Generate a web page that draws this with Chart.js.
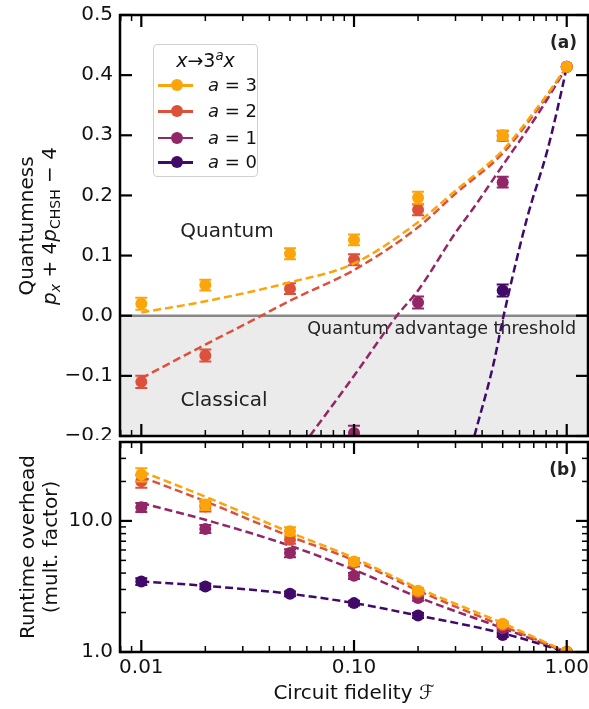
<!DOCTYPE html>
<html>
<head>
<meta charset="utf-8">
<script src="https://cdn.jsdelivr.net/npm/chart.js@4.4.0/dist/chart.umd.min.js"></script>
<style>
  body { margin: 0; background: #fff; }
  #wrap { position: relative; width: 589px; height: 709px; font-family: 'DejaVu Sans', sans-serif; color: #111; }
  #wrap canvas { position: absolute; left: 0; }
  .ylab { position: absolute; transform: translate(-50%, -50%) rotate(-90deg); text-align: center; white-space: nowrap; font-size: 20px; line-height: 23px; }
  .xlab { position: absolute; transform: translate(-50%, -50%); white-space: nowrap; font-size: 20px; }
  sub { font-size: 0.7em; vertical-align: -0.3em; line-height: 0; }
  sup { font-size: 0.7em; vertical-align: 0.55em; line-height: 0; }
  #legend { position: absolute; left: 153px; top: 44px; width: 105px; height: 133px; box-sizing: border-box; border: 1px solid #d0d0d0; border-radius: 4px; background: #fff; font-size: 18px; }
  #legend .ltitle { position: absolute; left: 0; width: 103px; top: 15px; transform: translateY(-50%); text-align: center; font-size: 19px; }
  #legend .lrow { position: absolute; left: 0; width: 103px; height: 24px; transform: translateY(-50%); }
  #legend .lline { position: absolute; left: 4px; top: 11px; width: 35px; height: 2.5px; }
  #legend .ldot { position: absolute; left: 16.5px; top: 6px; width: 12px; height: 12px; border-radius: 50%; }
  #legend .ltext { position: absolute; left: 54px; top: 1px; }
</style>
</head>
<body>
<div id="wrap">
  <canvas id="chartA" width="589" height="440" style="top:0"></canvas>
  <canvas id="chartB" width="589" height="269" style="top:440px"></canvas>
  <div class="ylab" style="left:38px; top:226px">Quantumness<br><i>p</i><sub><i>x</i></sub> + 4<i>p</i><sub>CHSH</sub> − 4</div>
  <div class="ylab" style="left:39px; top:547px">Runtime overhead<br>(mult. factor)</div>
  <div class="xlab" style="left:354px; top:692px">Circuit fidelity ℱ</div>
  <div id="legend"></div>
</div>
<script>
// --- DATA ---
const fidelity = [0.01, 0.02, 0.05, 0.1, 0.2, 0.5, 1.0];
const seriesNames = ['3', '2', '1', '0'];
const seriesColors = ['#fca50a', '#dd513a', '#932667', '#420a68'];

// panel (a): quantumness, measured points (null = below the plotted range)
const quantA3 = [0.020, 0.051, 0.103, 0.126, 0.196, 0.300, 0.414];
const quantA2 = [-0.110, -0.066, 0.045, 0.093, 0.176, 0.299, 0.414];
const quantA1 = [null, null, null, -0.195, 0.022, 0.222, 0.414];
const quantA0 = [null, null, null, null, null, 0.042, 0.414];
const quantErrA3 = [0.010, 0.009, 0.009, 0.009, 0.010, 0.008, 0];
const quantErrA2 = [0.010, 0.010, 0.009, 0.009, 0.009, 0.008, 0];
const quantErrA1 = [0, 0, 0, 0.012, 0.010, 0.009, 0];
const quantErrA0 = [0, 0, 0, 0, 0, 0.010, 0];

const fitQuantX3 = [0.01, 0.02, 0.05, 0.1, 0.2, 0.3, 0.5, 0.753, 1.0];
const fitQuantY3 = [0.0055, 0.024, 0.0555, 0.087, 0.1555, 0.208, 0.275, 0.353, 0.414];
const fitQuantX2 = [0.01, 0.02, 0.0367, 0.05, 0.1, 0.2, 0.3, 0.5, 0.753, 1.0];
const fitQuantY2 = [-0.104, -0.048, 0.0, 0.025, 0.076, 0.147, 0.203, 0.27, 0.35, 0.414];
const fitQuantX1 = [0.062, 0.1, 0.159, 0.2, 0.3, 0.366, 0.5, 0.753, 1.0];
const fitQuantY1 = [-0.2, -0.10, 0.0, 0.042, 0.138, 0.18, 0.25, 0.342, 0.414];
const fitQuantX0 = [0.368, 0.45, 0.505, 0.653, 0.811, 0.954, 1.0];
const fitQuantY0 = [-0.2, -0.084, 0.0, 0.164, 0.275, 0.38, 0.414];

// panel (b): runtime overhead
const overA3 = [22.6, 13.3, 8.33, 4.91, 2.93, 1.64, 1.0];
const overA2 = [20.1, 12.9, 7.19, 4.80, 2.85, 1.60, 1.0];
const overA1 = [12.7, 8.69, 5.69, 3.81, 2.58, 1.52, 1.0];
const overA0 = [3.45, 3.16, 2.78, 2.36, 1.90, 1.35, 1.0];
const overErrA3 = [2.6, 1.2, 0.6, 0.3, 0.15, 0.07, 0.02];
const overErrA2 = [2.2, 1.1, 0.5, 0.3, 0.15, 0.07, 0.02];
const overErrA1 = [1.0, 0.6, 0.4, 0.2, 0.12, 0.06, 0.02];
const overErrA0 = [0.2, 0.15, 0.12, 0.1, 0.08, 0.05, 0.02];
const fitOverA3 = [23.9, 15.3, 8.18, 5.21, 3.07, 1.66, 1.0];
const fitOverA2 = [21.7, 14.1, 7.62, 5.00, 2.94, 1.58, 1.0];
const fitOverA1 = [13.7, 10.2, 6.47, 4.24, 2.62, 1.52, 1.0];
const fitOverA0 = [3.45, 3.20, 2.78, 2.36, 1.90, 1.39, 1.0];

// --- AXES ---
const X_MIN = 0.00794, X_MAX = 1.259;
const xMajorTicks = [0.01, 0.1, 1];
const xMinorTicks = [0.008, 0.009, 0.02, 0.03, 0.04, 0.05, 0.06, 0.07, 0.08, 0.09,
                     0.2, 0.3, 0.4, 0.5, 0.6, 0.7, 0.8, 0.9];
const quantTicks = [-0.2, -0.1, 0, 0.1, 0.2, 0.3, 0.4, 0.5];
const overTicks = [1, 10];
const overMinorTicks = [2, 3, 4, 5, 6, 7, 8, 9, 20, 30];

Chart.defaults.font.family = "'DejaVu Sans', sans-serif";
const TICK_FONT = { size: 20 };

// --- HELPERS ---
function pts(xs, ys, errs) {
  const out = [];
  xs.forEach((x, i) => { if (ys[i] !== null) out.push({ x: x, y: ys[i], e: errs ? errs[i] : 0 }); });
  return out;
}

function pointSet(data, color) {
  return { data: data, showLine: false, borderColor: color, backgroundColor: color,
           pointRadius: 6, pointBorderWidth: 0, pointBackgroundColor: color, errorBars: true };
}

function fitSet(data, color) {
  return { data: data, borderColor: color, borderWidth: 2.5, borderDash: [8, 4],
           pointRadius: 0, fill: false, cubicInterpolationMode: 'monotone' };
}

// scale boxes: fixed size, no extra padding for overhanging labels
function fixWidth(w) {
  return s => { s.width = w; s.paddingTop = 0; s.paddingBottom = 0; s.paddingLeft = 0; s.paddingRight = 0; };
}
function fixHeight(h) {
  return s => { s.height = h; s.paddingTop = 0; s.paddingBottom = 0; s.paddingLeft = 0; s.paddingRight = 0; };
}

const panelPlugin = {
  id: 'panel',
  beforeDatasetsDraw(chart, args, o) {
    if (!o.shade) return;
    const { ctx, chartArea: a, scales: { y } } = chart;
    const y0 = y.getPixelForValue(0);
    ctx.save();
    ctx.fillStyle = '#ebebeb';
    ctx.fillRect(a.left, y0, a.right - a.left, a.bottom - y0);
    ctx.strokeStyle = '#888';
    ctx.lineWidth = 2.5;
    ctx.beginPath(); ctx.moveTo(a.left, y0); ctx.lineTo(a.right, y0); ctx.stroke();
    ctx.fillStyle = '#222';
    ctx.textBaseline = 'middle';
    ctx.textAlign = 'center';
    ctx.font = "20px 'DejaVu Sans'";
    ctx.fillText('Quantum', a.left + 107, 232);
    ctx.fillText('Classical', a.left + 104, 401);
    ctx.textAlign = 'right';
    ctx.font = "17.5px 'DejaVu Sans'";
    ctx.fillText('Quantum advantage threshold', a.right - 12, y0 + 14);
    ctx.restore();
  },
  beforeDatasetDraw(chart, args) {
    const ds = chart.data.datasets[args.index];
    if (!ds.errorBars) return;
    const { ctx, chartArea: a, scales: { x, y } } = chart;
    ctx.save();
    ctx.beginPath(); ctx.rect(a.left, a.top, a.right - a.left, a.bottom - a.top); ctx.clip();
    ctx.strokeStyle = ds.borderColor;
    ctx.lineWidth = 2;
    ds.data.forEach(p => {
      if (!p.e) return;
      const px = x.getPixelForValue(p.x);
      const lo = y.getPixelForValue(p.y - p.e), hi = y.getPixelForValue(p.y + p.e);
      ctx.beginPath();
      ctx.moveTo(px, lo); ctx.lineTo(px, hi);
      ctx.moveTo(px - 6, lo); ctx.lineTo(px + 6, lo);
      ctx.moveTo(px - 6, hi); ctx.lineTo(px + 6, hi);
      ctx.stroke();
    });
    ctx.restore();
  },
  afterDraw(chart, args, o) {
    const { ctx, chartArea: a, scales: { x, y } } = chart;
    ctx.save();
    ctx.strokeStyle = '#000';
    const seg = (x1, y1, x2, y2, w) => {
      ctx.lineWidth = w; ctx.beginPath(); ctx.moveTo(x1, y1); ctx.lineTo(x2, y2); ctx.stroke();
    };
    xMajorTicks.forEach(v => { const p = x.getPixelForValue(v); seg(p, a.bottom, p, a.bottom - 12, 2.2); seg(p, a.top, p, a.top + 12, 2.2); });
    xMinorTicks.forEach(v => { const p = x.getPixelForValue(v); seg(p, a.bottom, p, a.bottom - 6, 1.5); seg(p, a.top, p, a.top + 6, 1.5); });
    o.yMajor.forEach(v => { const p = y.getPixelForValue(v); seg(a.left, p, a.left + 12, p, 2.2); seg(a.right, p, a.right - 12, p, 2.2); });
    o.yMinor.forEach(v => { const p = y.getPixelForValue(v); seg(a.left, p, a.left + 6, p, 1.5); seg(a.right, p, a.right - 6, p, 1.5); });
    ctx.lineWidth = 2.5;
    ctx.strokeRect(a.left, a.top, a.right - a.left, a.bottom - a.top);
    ctx.fillStyle = '#222';
    ctx.font = "bold 17px 'DejaVu Sans'";
    ctx.textAlign = 'right';
    ctx.textBaseline = 'middle';
    ctx.fillText(o.letter, a.right - 11, a.top + 29);
    ctx.restore();
  }
};

// --- PANEL (a) ---
const quantSeries = [quantA3, quantA2, quantA1, quantA0];
const quantErrs = [quantErrA3, quantErrA2, quantErrA1, quantErrA0];
const fitQuantX = [fitQuantX3, fitQuantX2, fitQuantX1, fitQuantX0];
const fitQuantY = [fitQuantY3, fitQuantY2, fitQuantY1, fitQuantY0];
const dataA = [];
seriesColors.forEach((c, i) => {
  dataA.push(pointSet(pts(fidelity, quantSeries[i], quantErrs[i]), c));
  dataA.push(fitSet(pts(fitQuantX[i], fitQuantY[i]), c));
});

new Chart(document.getElementById('chartA'), {
  type: 'line',
  data: { datasets: dataA },
  options: {
    responsive: false, animation: false, events: [],
    layout: { autoPadding: false, padding: { top: 15, right: 1, bottom: 4, left: 0 } },
    plugins: { legend: { display: false }, tooltip: { enabled: false },
               panel: { shade: true, letter: '(a)', yMajor: quantTicks, yMinor: [] } },
    scales: {
      x: { type: 'logarithmic', min: X_MIN, max: X_MAX, display: false, afterFit: fixHeight(0) },
      y: {
        type: 'linear', min: -0.2, max: 0.5,
        afterFit: fixWidth(120),
        afterBuildTicks: s => { s.ticks = quantTicks.map(v => ({ value: v })); },
        grid: { display: false, drawTicks: false }, border: { display: false },
        ticks: { font: TICK_FONT, color: '#111', padding: 7,
                 callback: v => v.toFixed(1).replace('-', '\u2212') }
      }
    }
  },
  plugins: [panelPlugin]
});

// --- PANEL (b) ---
const overSeries = [overA3, overA2, overA1, overA0];
const overErrs = [overErrA3, overErrA2, overErrA1, overErrA0];
const fitOver = [fitOverA3, fitOverA2, fitOverA1, fitOverA0];
const dataB = [];
seriesColors.forEach((c, i) => {
  dataB.push(pointSet(pts(fidelity, overSeries[i], overErrs[i]), c));
  dataB.push(fitSet(pts(fidelity, fitOver[i]), c));
});

new Chart(document.getElementById('chartB'), {
  type: 'line',
  data: { datasets: dataB },
  options: {
    responsive: false, animation: false, events: [],
    layout: { autoPadding: false, padding: { top: 2, right: 1, bottom: 0, left: 0 } },
    plugins: { legend: { display: false }, tooltip: { enabled: false },
               panel: { shade: false, letter: '(b)', yMajor: overTicks, yMinor: overMinorTicks } },
    scales: {
      x: {
        type: 'logarithmic', min: X_MIN, max: X_MAX,
        afterFit: fixHeight(57),
        afterBuildTicks: s => { s.ticks = xMajorTicks.map(v => ({ value: v })); },
        grid: { display: false, drawTicks: false }, border: { display: false },
        ticks: { font: TICK_FONT, color: '#111', padding: 4, autoSkip: false, maxRotation: 0,
                 callback: v => Number(v).toFixed(2) }
      },
      y: {
        type: 'logarithmic', min: 1, max: 40,
        afterFit: fixWidth(120),
        afterBuildTicks: s => { s.ticks = overTicks.map(v => ({ value: v })); },
        grid: { display: false, drawTicks: false }, border: { display: false },
        ticks: { font: TICK_FONT, color: '#111', padding: 7, autoSkip: false,
                 callback: v => Number(v).toFixed(1) }
      }
    }
  },
  plugins: [panelPlugin]
});

// --- LEGEND ---
const legend = document.getElementById('legend');
let html = '<div class="ltitle"><i>x</i>\u2192<span>3</span><sup><i>a</i></sup><i>x</i></div>';
const rowY = [40, 66, 92.5, 117];
seriesNames.forEach((n, i) => {
  html += '<div class="lrow" style="top:' + rowY[i] + 'px">' +
          '<span class="lline" style="background:' + seriesColors[i] + '"></span>' +
          '<span class="ldot" style="background:' + seriesColors[i] + '"></span>' +
          '<span class="ltext"><i>a</i> = ' + n + '</span></div>';
});
legend.innerHTML = html;
</script>
</body>
</html>
